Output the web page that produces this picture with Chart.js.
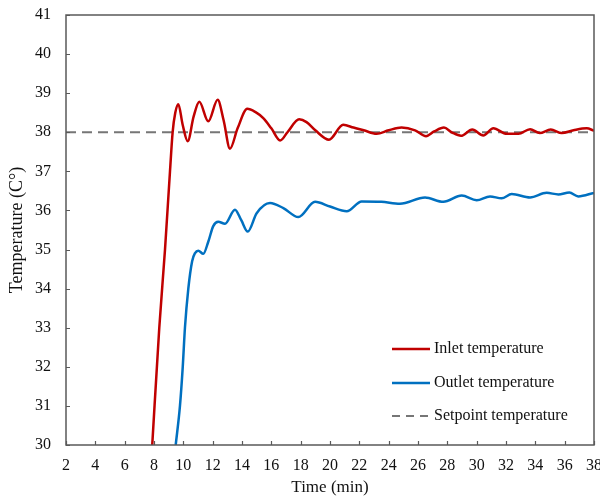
<!DOCTYPE html>
<html>
<head>
<meta charset="utf-8">
<script src="https://cdn.jsdelivr.net/npm/chart.js@4.4.1/dist/chart.umd.min.js"></script>
<style>
  body { margin: 0; background: #fff; }
  #wrap { width: 600px; height: 500px; }
</style>
</head>
<body>
<div id="wrap"><canvas id="chart" width="600" height="500"></canvas></div>
<script>
// values
const inletTime = [7.88, 8.36, 8.75, 9.09, 9.27, 9.45, 9.66, 9.95, 10.3, 10.7, 11.09, 11.7, 12.34, 12.75, 13.18, 13.7, 14.36, 14.9, 15.45, 16.0, 16.6, 17.1, 17.9, 18.4, 19.0, 19.93, 20.9, 21.6, 22.3, 23.18, 24.0, 24.88, 25.8, 26.55, 27.1, 27.77, 28.3, 28.93, 29.7, 30.45, 31.14, 32.05, 32.85, 33.64, 34.3, 35.05, 35.8, 36.6, 37.5, 38];
const inletTemp = [30, 33, 35, 37, 38, 38.5, 38.72, 38.2, 37.77, 38.4, 38.78, 38.28, 38.83, 38.3, 37.58, 38.1, 38.6, 38.52, 38.36, 38.1, 37.79, 38.0, 38.33, 38.26, 38.05, 37.81, 38.19, 38.12, 38.05, 37.96, 38.05, 38.12, 38.05, 37.9, 38.02, 38.12, 38.0, 37.91, 38.07, 37.92, 38.1, 37.96, 37.96, 38.08, 37.98, 38.07, 37.98, 38.05, 38.1, 38.04];

const outletTime = [9.48, 9.77, 9.96, 10.11, 10.34, 10.6, 10.8, 11.02, 11.36, 11.7, 12.04, 12.38, 12.84, 13.52, 13.95, 14.39, 15.0, 15.91, 16.82, 17.84, 18.98, 20.0, 21.14, 22.16, 23.5, 24.77, 26.48, 27.73, 28.98, 30.0, 30.91, 31.7, 32.39, 33.64, 34.77, 35.57, 36.32, 36.93, 38];
const outletTemp = [30, 31, 32, 33, 34, 34.7, 34.91, 34.97, 34.89, 35.2, 35.6, 35.71, 35.66, 36.02, 35.75, 35.46, 35.93, 36.19, 36.06, 35.83, 36.22, 36.1, 35.98, 36.23, 36.22, 36.17, 36.33, 36.22, 36.38, 36.26, 36.36, 36.31, 36.42, 36.33, 36.45, 36.41, 36.46, 36.36, 36.45];

const setpointTime = [2, 38];
const setpointTemp = [38, 38];

const seriesNames = ['Inlet temperature', 'Outlet temperature', 'Setpoint temperature'];

const xTicks = { min: 2, max: 38, step: 2 };
const yTicks = { min: 30, max: 41, step: 1 };

const FONT = '"Liberation Serif", "Times New Roman", serif';
const AXIS_COLOR = '#595959';

function pts(xs, ys) {
  return xs.map((x, i) => ({ x: x, y: ys[i] }));
}

// frame + inward tick marks
const framePlugin = {
  id: 'frame',
  afterDatasetsDraw(chart) {
    const { ctx, chartArea: a, scales } = chart;
    ctx.save();
    ctx.strokeStyle = AXIS_COLOR;
    ctx.lineWidth = 1.5;
    ctx.strokeRect(a.left, a.top, a.right - a.left, a.bottom - a.top);
    ctx.lineWidth = 1.2;
    ctx.beginPath();
    scales.x.ticks.forEach(t => {
      const px = Math.round(scales.x.getPixelForValue(t.value)) + 0.5;
      ctx.moveTo(px, a.bottom);
      ctx.lineTo(px, a.bottom - 4);
    });
    scales.y.ticks.forEach(t => {
      const py = Math.round(scales.y.getPixelForValue(t.value)) + 0.5;
      ctx.moveTo(a.left, py);
      ctx.lineTo(a.left + 4, py);
    });
    ctx.stroke();
    ctx.restore();
  }
};

// legend inside the plot, lower right
const innerLegend = {
  id: 'innerLegend',
  afterDraw(chart) {
    const { ctx, chartArea: a } = chart;
    const rows = [a.bottom - 96, a.bottom - 62, a.bottom - 29];
    ctx.save();
    chart.data.datasets.forEach((ds, i) => {
      const y = rows[i];
      ctx.strokeStyle = ds.borderColor;
      ctx.lineWidth = ds.borderWidth;
      ctx.setLineDash(ds.borderDash ? [8, 6] : []);
      ctx.beginPath();
      ctx.moveTo(a.right - 202, y);
      ctx.lineTo(a.right - 164, y);
      ctx.stroke();
      ctx.setLineDash([]);
      ctx.fillStyle = '#111';
      ctx.font = '16px ' + FONT;
      ctx.textBaseline = 'middle';
      ctx.fillText(ds.label, a.right - 160, y);
    });
    ctx.restore();
  }
};

new Chart(document.getElementById('chart'), {
  type: 'line',
  data: {
    datasets: [
      {
        label: seriesNames[0],
        data: pts(inletTime, inletTemp),
        borderColor: '#C00000',
        borderWidth: 2.5,
        pointRadius: 0,
        cubicInterpolationMode: 'monotone'
      },
      {
        label: seriesNames[1],
        data: pts(outletTime, outletTemp),
        borderColor: '#0070C0',
        borderWidth: 2.5,
        pointRadius: 0,
        cubicInterpolationMode: 'monotone'
      },
      {
        label: seriesNames[2],
        data: pts(setpointTime, setpointTemp),
        borderColor: '#767676',
        borderWidth: 2.2,
        borderDash: [10, 6],
        pointRadius: 0
      }
    ]
  },
  options: {
    responsive: false,
    animation: false,
    layout: { padding: { left: 0, right: 6, top: 15, bottom: 0 } },
    plugins: {
      legend: { display: false },
      tooltip: { enabled: false }
    },
    scales: {
      x: {
        type: 'linear',
        min: xTicks.min,
        max: xTicks.max,
        afterFit(s) {
          s.height = 55;
          s.paddingLeft = 0;
          s.paddingRight = 0;
        },
        grid: { display: false, drawTicks: false },
        border: { display: false },
        ticks: {
          stepSize: xTicks.step,
          padding: 11,
          maxRotation: 0,
          color: '#111',
          font: { family: FONT, size: 16 }
        },
        title: {
          display: true,
          text: 'Time (min)',
          color: '#111',
          font: { family: FONT, size: 17 },
          padding: { top: 0, bottom: 2 }
        }
      },
      y: {
        min: yTicks.min,
        max: yTicks.max,
        afterFit(s) {
          s.width = 66;
          s.paddingTop = 0;
          s.paddingBottom = 0;
        },
        grid: { display: false, drawTicks: false },
        border: { display: false },
        ticks: {
          stepSize: yTicks.step,
          padding: 15,
          color: '#111',
          font: { family: FONT, size: 16 }
        },
        title: {
          display: true,
          text: 'Temperature (C°)',
          color: '#111',
          font: { family: FONT, size: 18 },
          padding: { top: 6, bottom: 0 }
        }
      }
    }
  },
  plugins: [framePlugin, innerLegend]
});
</script>
</body>
</html>
